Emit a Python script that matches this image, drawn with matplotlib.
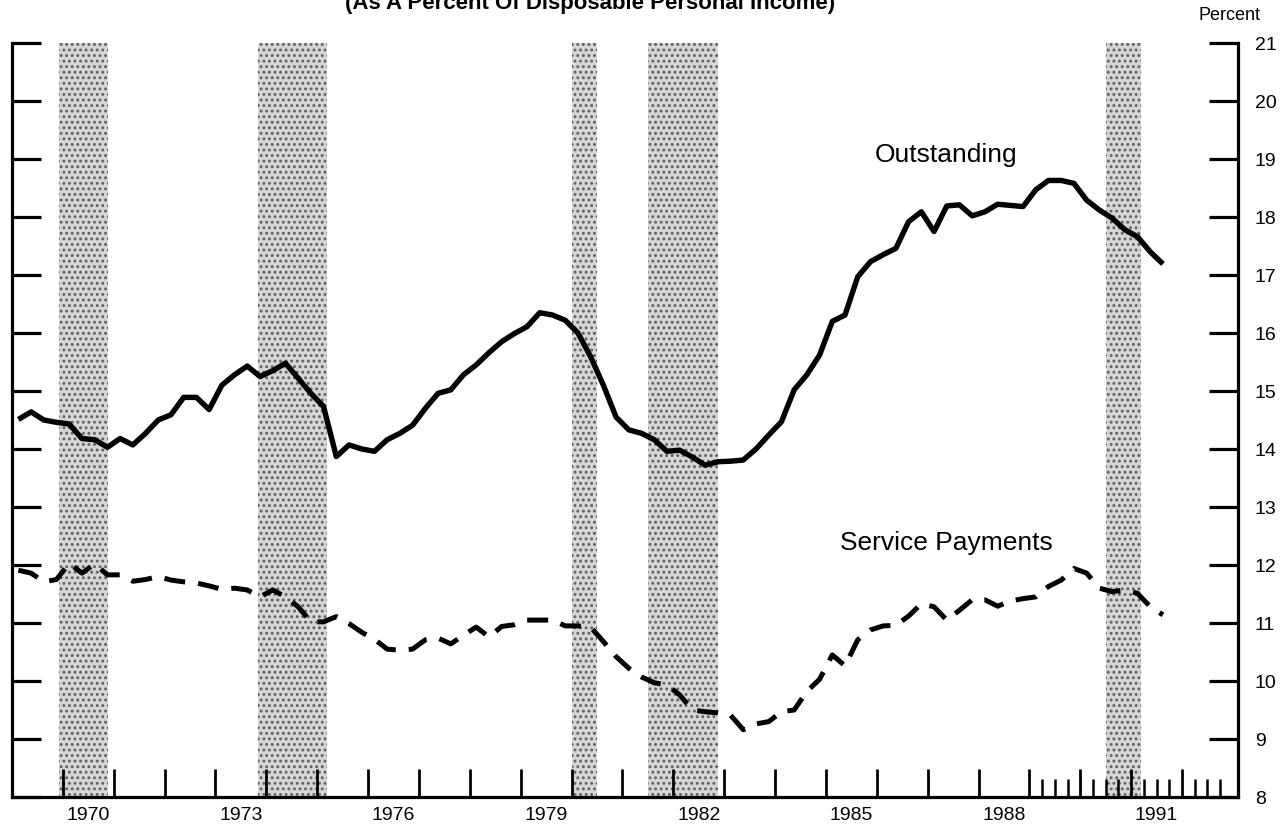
import numpy as np
import matplotlib.pyplot as plt
from matplotlib.transforms import blended_transform_factory

plt.rcParams['font.family'] = ['Liberation Sans', 'DejaVu Sans']
plt.rcParams['hatch.color'] = '#5e5e5e'
plt.rcParams['hatch.linewidth'] = 1.3

# quarterly observations, 1969Q1 - 1991Q3, plotted mid-quarter
quarters = 1969.125 + 0.25 * np.arange(91)

outstanding = [
    14.51, 14.64, 14.50, 14.46,   # 1969
    14.43, 14.18, 14.16, 14.03,   # 1970
    14.18, 14.07, 14.27, 14.50,   # 1971
    14.59, 14.89, 14.89, 14.68,   # 1972
    15.10, 15.28, 15.43, 15.25,   # 1973
    15.35, 15.48, 15.22, 14.96,   # 1974
    14.73, 13.87, 14.07, 14.00,   # 1975
    13.96, 14.16, 14.27, 14.41,   # 1976
    14.70, 14.96, 15.02, 15.28,   # 1977
    15.45, 15.66, 15.85, 15.99,   # 1978
    16.11, 16.35, 16.31, 16.22,   # 1979
    16.00, 15.59, 15.10, 14.55,   # 1980
    14.33, 14.27, 14.16, 13.96,   # 1981
    13.98, 13.86, 13.72, 13.78,   # 1982
    13.79, 13.81, 14.00, 14.24,   # 1983
    14.47, 15.02, 15.28, 15.62,   # 1984
    16.20, 16.31, 16.97, 17.23,   # 1985
    17.35, 17.46, 17.92, 18.09,   # 1986
    17.75, 18.19, 18.21, 18.02,   # 1987
    18.09, 18.22, 18.20, 18.18,   # 1988
    18.47, 18.63, 18.63, 18.58,   # 1989
    18.29, 18.12, 17.98, 17.78,   # 1990
    17.66, 17.40, 17.19,          # 1991
]

service = [
    11.91, 11.86, 11.71, 11.75,   # 1969
    12.03, 11.86, 12.02, 11.83,   # 1970
    11.83, 11.72, 11.75, 11.80,   # 1971
    11.74, 11.71, 11.69, 11.64,   # 1972
    11.58, 11.60, 11.57, 11.45,   # 1973
    11.57, 11.45, 11.28, 11.02,   # 1974
    11.02, 11.11, 10.99, 10.84,   # 1975
    10.72, 10.55, 10.53, 10.55,   # 1976
    10.71, 10.74, 10.64, 10.79,   # 1977
    10.93, 10.76, 10.94, 10.97,   # 1978
    11.05, 11.05, 11.05, 10.95,   # 1979
    10.95, 10.93, 10.68, 10.42,   # 1980
    10.22, 10.07, 9.97, 9.93,     # 1981
    9.76, 9.50, 9.47, 9.45,       # 1982
    9.41, 9.16, 9.26, 9.30,       # 1983
    9.47, 9.50, 9.82, 10.03,      # 1984
    10.45, 10.26, 10.71, 10.88,   # 1985
    10.95, 10.96, 11.12, 11.33,   # 1986
    11.28, 11.05, 11.22, 11.40,   # 1987
    11.40, 11.29, 11.38, 11.42,   # 1988
    11.45, 11.63, 11.74, 11.94,   # 1989
    11.86, 11.60, 11.54, 11.57,   # 1990
    11.51, 11.28, 11.14,          # 1991
]

# recessions (start, end) in fractional years
recessions = [(1969.92, 1970.88), (1973.83, 1975.20), (1980.00, 1980.50),
              (1981.50, 1982.88), (1990.50, 1991.20)]

year_labels = [1970, 1973, 1976, 1979, 1982, 1985, 1988, 1991]

fig = plt.figure(figsize=(12.85, 8.31), dpi=100)
ax = fig.add_axes([12 / 1285, 34 / 831, 1226 / 1285, 754 / 831])

for start, end in recessions:
    ax.axvspan(start, end, facecolor='#d6d6d6', hatch='...', edgecolor='#5e5e5e',
               linewidth=0, zorder=0)

ax.plot(quarters, outstanding, color='black', lw=3.9, solid_joinstyle='round',
        solid_capstyle='butt', zorder=3)
ax.plot(quarters, service, color='black', lw=3.6, dashes=[4.2, 2.6],
        dash_capstyle='butt', zorder=3)

ax.text(1987.36, 19.07, 'Outstanding', fontsize=19, ha='center', va='center')
ax.text(1987.36, 12.38, 'Service Payments', fontsize=19, ha='center', va='center')

ax.set_xlim(1969.0, 1993.1)
ax.set_ylim(8, 21)

ax.spines['top'].set_visible(False)
for side in ['left', 'right', 'bottom']:
    ax.spines[side].set_linewidth(2.3)

ax.set_yticks(range(8, 22))
ax.tick_params(axis='y', left=True, right=True, labelleft=False, labelright=True,
               direction='in', length=21, width=2.3, pad=12, labelsize=14)

ax.set_xticks(range(1970, 1993))
ax.set_xticklabels([])
ax.set_xticks([y + q for y in range(1989, 1993) for q in (0.25, 0.5, 0.75)], minor=True)
ax.tick_params(axis='x', which='major', direction='in', length=20, width=2.0)
ax.tick_params(axis='x', which='minor', direction='in', length=13, width=1.8)

trans = blended_transform_factory(ax.transData, ax.transAxes)
for yr in year_labels:
    ax.text(yr + 0.5, -0.025, str(yr), transform=trans, ha='center', va='center',
            fontsize=14)

fig.text(590 / 1285, 1 - 3 / 831, '(As A Percent Of Disposable Personal Income)',
         ha='center', va='center', fontsize=16, fontweight='bold')
fig.text(1230 / 1285, 1 - 16 / 831, 'Percent', ha='center', va='center', fontsize=13)

fig.savefig('out.png', dpi=100)
